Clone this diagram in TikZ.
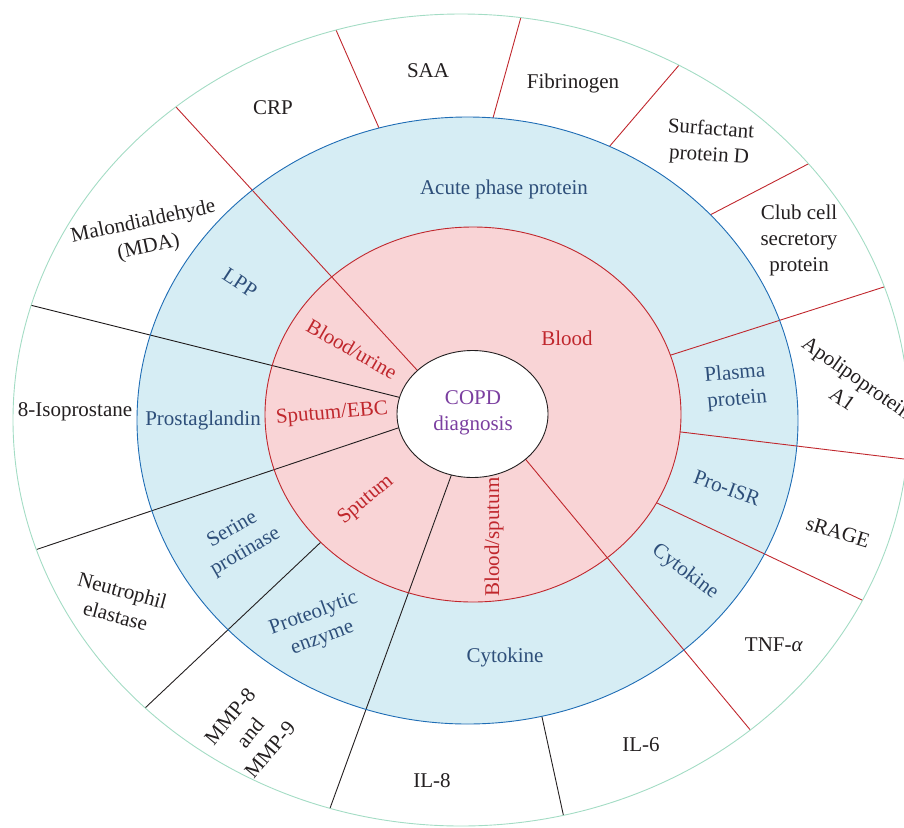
\documentclass[tikz,border=0pt]{standalone}
\usepackage{fontspec}
\setmainfont{Liberation Serif}
\usetikzlibrary{calc}
\definecolor{outergreen}{HTML}{A3DCC4}
\definecolor{bluefill}{HTML}{D6EDF4}
\definecolor{bluestroke}{HTML}{1F6DB5}
\definecolor{pinkfill}{HTML}{F9D4D6}
\definecolor{lred}{HTML}{C0272D}
\definecolor{txtblue}{HTML}{2E4F7A}
\definecolor{txtdark}{HTML}{231F20}
\definecolor{purp}{HTML}{7B3FA0}
\begin{document}
\begin{tikzpicture}[x=1pt,y=-1pt]
\tikzset{
  redline/.style={draw=lred, line width=0.9pt},
  blkline/.style={draw=txtdark, line width=0.9pt},
  outlbl/.style={text=txtdark, font=\fontsize{21}{26}\selectfont, align=center, inner sep=0pt},
  bluelbl/.style={outlbl, text=txtblue},
  pinklbl/.style={outlbl, text=lred},
}
\useasboundingbox (0,0) rectangle (904,827);
% ellipse centres
\coordinate (Co) at (461,420);
\coordinate (Cb) at (467.5,420.5);
\coordinate (Cp) at (473,414.5);
\coordinate (Cw) at (472.5,414);
% spoke end points
\coordinate (a1) at (417,370);  \coordinate (b1) at (176,107);
\coordinate (a2) at (398,397);  \coordinate (b2) at (30,305);
\coordinate (a3) at (398,428);  \coordinate (b3) at (35,550);
\coordinate (a4) at (321,542);  \coordinate (b4) at (144,709);
\coordinate (a5) at (451,476);  \coordinate (b5) at (329,811);
\coordinate (a6) at (542,717);  \coordinate (b6) at (564,818);
\coordinate (a7) at (527,461);  \coordinate (b7) at (752,732);
\coordinate (a8) at (657,503);  \coordinate (b8) at (864,601);
\coordinate (a9) at (681,432);  \coordinate (b9) at (904,459);
\coordinate (a10) at (671,355); \coordinate (b10) at (887,286);
\coordinate (a11) at (710,215); \coordinate (b11) at (810,163);
\coordinate (a12) at (609,147); \coordinate (b12) at (680,64);
\coordinate (a13) at (493,118); \coordinate (b13) at (521,17);
\coordinate (a14) at (379,128); \coordinate (b14) at (336,30);
\begin{scope}
\clip (Co) ellipse [x radius=448pt, y radius=406pt];
% spokes starting at blue ring
\draw[blkline] ($(a6)!-20pt!(b6)$) -- ($(b6)!-30pt!(a6)$);
\draw[redline] ($(a11)!-20pt!(b11)$) -- ($(b11)!-30pt!(a11)$);
\draw[redline] ($(a12)!-20pt!(b12)$) -- ($(b12)!-30pt!(a12)$);
\draw[redline] ($(a13)!-20pt!(b13)$) -- ($(b13)!-30pt!(a13)$);
\draw[redline] ($(a14)!-20pt!(b14)$) -- ($(b14)!-30pt!(a14)$);
\fill[bluefill] (Cb) ellipse [x radius=330.5pt, y radius=303.5pt];
% spokes starting at pink ring
\draw[blkline] ($(a4)!-20pt!(b4)$) -- ($(b4)!-30pt!(a4)$);
\draw[redline] ($(a8)!-20pt!(b8)$) -- ($(b8)!-30pt!(a8)$);
\draw[redline] ($(a9)!-20pt!(b9)$) -- ($(b9)!-30pt!(a9)$);
\draw[redline] ($(a10)!-20pt!(b10)$) -- ($(b10)!-30pt!(a10)$);
\fill[pinkfill] (Cp) ellipse [x radius=208pt, y radius=187.5pt];
% spokes starting at centre
\draw[redline] ($(a1)!-20pt!(b1)$) -- ($(b1)!-30pt!(a1)$);
\draw[blkline] ($(a2)!-20pt!(b2)$) -- ($(b2)!-30pt!(a2)$);
\draw[blkline] ($(a3)!-20pt!(b3)$) -- ($(b3)!-30pt!(a3)$);
\draw[blkline] ($(a5)!-20pt!(b5)$) -- ($(b5)!-30pt!(a5)$);
\draw[redline] ($(a7)!-20pt!(b7)$) -- ($(b7)!-30pt!(a7)$);
\end{scope}
% ring outlines
\draw[bluestroke, line width=0.9pt] (Cb) ellipse [x radius=330.5pt, y radius=303.5pt];
\draw[lred, line width=0.9pt] (Cp) ellipse [x radius=208pt, y radius=187.5pt];
\draw[outergreen, line width=0.9pt] (Co) ellipse [x radius=448pt, y radius=406pt];
\draw[txtdark, fill=white, line width=0.9pt] (Cw) ellipse [x radius=75.5pt, y radius=63.5pt];
% outer labels
\node[outlbl] (crp) at (273,108) {CRP};
\node[outlbl] (saa) at (428,71) {SAA};
\node[outlbl] (fib) at (573,83) {Fibrinogen};
\node[outlbl, rotate=-4] (spd) at (710,143) {Surfactant\\protein D};
\node[outlbl] (ccsp) at (799,240) {Club cell\\secretory\\protein};
\node[outlbl, rotate=-35] (apo) at (850,388) {Apolipoprotein\\A1};
\node[outlbl, rotate=-17] (srage) at (838,532) {sRAGE};
\node[outlbl] (tnf) at (774,645) {TNF-\textit{α}};
\node[outlbl] (il6) at (641,745) {IL-6};
\node[outlbl] (il8) at (432,781) {IL-8};
\node[outlbl, rotate=50] (mmp) at (250,733) {MMP-8\\and\\MMP-9};
\node[outlbl, rotate=-15] (ne) at (119,603) {Neutrophil\\elastase};
\node[outlbl] (iso) at (75,412) {8-Isoprostane};
\node[outlbl, rotate=12] (mda) at (146,235) {Malondialdehyde\\(MDA)};
% blue ring labels
\node[bluelbl] (acute) at (504,189) {Acute phase protein};
\node[bluelbl, rotate=-33] (lpp) at (240,283) {LPP};
\node[bluelbl] (prost) at (203,420) {Prostaglandin};
\node[bluelbl, rotate=30] (serine) at (239,541) {Serine\\protinase};
\node[bluelbl, rotate=20] (proteo) at (318,626) {Proteolytic\\enzyme};
\node[bluelbl] (cyto1) at (505,657) {Cytokine};
\node[bluelbl, rotate=-37] (cyto2) at (685,572) {Cytokine};
\node[bluelbl, rotate=-20] (proisr) at (727,488) {Pro-ISR};
\node[bluelbl, rotate=5] (plasma) at (736,387) {Plasma\\protein};
% pink ring labels
\node[pinklbl] (blood) at (567,338) {Blood};
\node[pinklbl, rotate=-30] (bu) at (352,349) {Blood/urine};
\node[pinklbl, rotate=5] (se) at (332,414) {Sputum/EBC};
\node[pinklbl, rotate=40] (sp) at (366,500) {Sputum};
\node[pinklbl, rotate=90] (bs) at (494,537) {Blood/sputum};
% centre
\node[outlbl, text=purp] (copd) at (473,413) {COPD\\diagnosis};
\end{tikzpicture}
\end{document}
